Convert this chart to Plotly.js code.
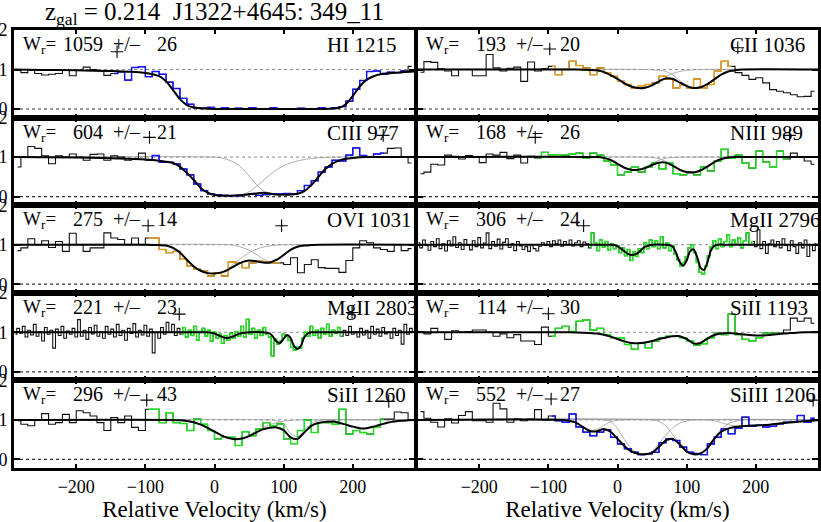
<!DOCTYPE html>
<html><head><meta charset="utf-8">
<script src="https://cdn.plot.ly/plotly-3.0.1.min.js"></script>
<style>html,body{margin:0;padding:0;background:#fff}#chart{width:821px;height:522px}</style>
</head><body><div id="chart"></div>
<script>
// ---------- DATA ----------
const velBins = [-285,-275,-265,-255,-245,-235,-225,-215,-205,-195,
 -185,-175,-165,-155,-145,-135,-125,-115,-105,-95,
 -85,-75,-65,-55,-45,-35,-25,-15,-5,5,
 15,25,35,45,55,65,75,85,95,105,
 115,125,135,145,155,165,175,185,195,205,
 215,225,235,245,255,265,275,285];
const velMg = [-288,-284,-280,-276,-272,-268,-264,-260,-256,-252,
 -248,-244,-240,-236,-232,-228,-224,-220,-216,-212,
 -208,-204,-200,-196,-192,-188,-184,-180,-176,-172,
 -168,-164,-160,-156,-152,-148,-144,-140,-136,-132,
 -128,-124,-120,-116,-112,-108,-104,-100,-96,-92,
 -88,-84,-80,-76,-72,-68,-64,-60,-56,-52,
 -48,-44,-40,-36,-32,-28,-24,-20,-16,-12,
 -8,-4,0,4,8,12,16,20,24,28,
 32,36,40,44,48,52,56,60,64,68,
 72,76,80,84,88,92,96,100,104,108,
 112,116,120,124,128,132,136,140,144,148,
 152,156,160,164,168,172,176,180,184,188,
 192,196,200,204,208,212,216,220,224,228,
 232,236,240,244,248,252,256,260,264,268,
 272,276,280,284,288];

// HI 1215
const hiFlux = [0.98,0.92,0.98,0.90,0.86,0.88,0.90,0.98,0.84,0.98,
 1.06,1.00,0.97,0.85,0.90,0.94,0.73,1.05,1.07,0.82,
 0.95,0.88,0.68,0.52,0.27,0.12,0.03,0.02,0.04,0.01,
 0.03,0.00,0.02,0.00,0.03,0.01,0.00,0.03,0.00,0.01,
 0.00,0.02,0.00,0.01,0.03,0.01,0.03,0.06,0.20,0.50,
 0.72,0.95,0.96,0.88,0.93,0.92,0.97,1.08];
const hiWin = [-145, 275];
const hiFitVel = [-290,-250,-200,-150,-120,-100,-90,-80,-70,-60,-50,-40,-30,-20,-10,0,20,60,100,140,160,170,180,190,200,210,220,230,240,250,260,270,290];
const hiFit = [1.0,0.99,0.98,0.96,0.94,0.91,0.88,0.83,0.70,0.48,0.25,0.10,0.04,0.02,0.01,0.0,0.0,0.0,0.0,0.0,0.0,0.01,0.03,0.12,0.33,0.57,0.74,0.83,0.88,0.90,0.92,0.93,0.95];
const hiMarkV = [-141], hiMarkY = [1.45];

// CII 1036
const ciiFlux = [0.93,1.20,1.18,1.02,0.96,0.84,1.00,1.00,0.84,0.84,
 1.38,1.04,0.96,1.03,1.06,0.70,1.19,0.96,1.02,1.08,
 0.87,1.00,1.21,1.10,1.04,0.87,1.04,0.92,0.83,0.70,
 0.62,0.53,0.59,0.62,0.66,0.83,0.75,0.53,0.60,0.53,
 0.76,0.53,0.62,0.96,1.21,1.08,0.92,0.85,0.75,0.79,
 0.66,0.49,0.45,0.41,0.36,0.31,0.32,0.45];
const ciiWin = [-95, 165];
const ciiFitVel = [-290,-60,-40,-30,-20,-10,0,10,20,30,40,50,60,70,80,90,100,110,120,130,140,150,160,170,180,290];
const ciiFit = [1.0,1.0,0.99,0.98,0.94,0.86,0.76,0.65,0.57,0.53,0.54,0.60,0.70,0.77,0.76,0.67,0.58,0.53,0.55,0.63,0.75,0.87,0.95,0.98,1.0,1.0];
const ciiC1Vel = [-290,-40,-30,-20,-10,0,10,20,30,40,50,60,70,80,90,100,110,120,290];
const ciiC1 = [1,1.0,0.98,0.94,0.86,0.76,0.65,0.57,0.53,0.55,0.62,0.72,0.82,0.9,0.95,0.98,0.99,1.0,1.0];
const ciiC2Vel = [-290,40,50,60,70,80,90,100,110,120,130,140,150,160,170,180,290];
const ciiC2 = [1,1.0,0.99,0.98,0.95,0.86,0.72,0.60,0.53,0.56,0.64,0.76,0.87,0.95,0.98,1.0,1.0];
const ciiMarkV = [-98, 174], ciiMarkY = [1.52, 1.55];

// CIII 977
const ciiiFlux = [0.75,1.00,1.27,1.22,1.03,0.83,1.03,1.00,1.08,1.00,
 0.92,1.07,1.08,0.92,1.03,1.00,0.92,0.96,1.10,0.92,
 1.04,0.87,0.87,0.83,0.70,0.55,0.32,0.15,0.07,0.05,
 0.03,0.02,0.02,0.05,0.07,0.03,0.05,0.07,0.07,0.08,
 0.07,0.15,0.28,0.40,0.62,0.75,0.92,0.90,1.05,1.23,
 1.04,1.00,1.08,1.10,1.22,1.23,1.00,0.85];
const ciiiWin = [-95, 245];
const ciiiFitVel = [-290,-200,-150,-100,-80,-60,-50,-40,-30,-20,-10,0,10,20,30,40,50,60,70,80,90,100,110,120,130,140,150,160,170,180,190,200,220,290];
const ciiiFit = [1.0,0.99,0.97,0.94,0.91,0.85,0.76,0.6,0.42,0.22,0.1,0.04,0.02,0.02,0.03,0.04,0.06,0.08,0.1,0.08,0.05,0.05,0.05,0.07,0.14,0.29,0.49,0.69,0.83,0.91,0.96,0.98,1.0,1.0];
const ciiiC1Vel = [-290,-200,-150,-100,-80,-60,-50,-40,-30,-20,-10,0,10,20,30,40,50,60,70,80,90,100,110,120,130,140,150,160,170,290];
const ciiiC1 = [1.0,0.99,0.97,0.94,0.91,0.85,0.76,0.6,0.42,0.22,0.1,0.04,0.02,0.02,0.03,0.05,0.12,0.25,0.4,0.55,0.68,0.78,0.85,0.9,0.94,0.96,0.98,0.99,1.0,1.0];
const ciiiC2Vel = [-290,0,10,20,30,40,50,60,70,80,90,100,110,120,130,140,150,160,170,180,190,200,210,220,290];
const ciiiC2 = [1.0,1.0,0.98,0.93,0.85,0.72,0.52,0.32,0.16,0.08,0.05,0.05,0.05,0.07,0.15,0.3,0.5,0.7,0.83,0.91,0.96,0.98,0.99,1.0,1.0];
const ciiiMarkV = [-94, 244], ciiiMarkY = [1.5, 1.55];

// NIII 989
const niiiFlux = [0.58,0.62,0.82,0.80,1.05,1.02,0.95,1.04,1.00,0.86,
 1.08,1.05,1.12,0.96,1.05,0.85,1.02,0.98,1.12,1.06,
 1.06,1.05,1.08,1.10,0.98,1.10,1.05,0.90,0.80,0.55,
 0.62,0.75,0.62,0.75,0.85,0.70,0.85,0.58,0.55,0.62,
 0.55,0.75,0.65,0.90,1.20,0.97,1.05,0.85,0.72,1.15,
 0.88,0.75,1.15,0.95,1.10,1.00,0.90,0.82];
const niiiWin = [-115, 245];
const niiiFitVel = [-290,-30,-20,-10,0,10,20,30,40,50,60,70,80,90,100,110,120,130,140,150,160,170,290];
const niiiFit = [1.0,1.0,0.98,0.93,0.83,0.73,0.68,0.68,0.72,0.8,0.86,0.86,0.78,0.68,0.62,0.61,0.66,0.76,0.87,0.95,0.99,1.0,1.0];
const niiiC1Vel = [-290,-30,-20,-10,0,10,20,30,40,50,60,70,80,90,290];
const niiiC1 = [1,1,0.99,0.94,0.84,0.74,0.68,0.69,0.75,0.84,0.92,0.97,0.99,1.0,1.0];
const niiiC2Vel = [-290,40,50,60,70,80,90,100,110,120,130,140,150,160,170,290];
const niiiC2 = [1,1,0.99,0.96,0.89,0.79,0.69,0.62,0.61,0.66,0.76,0.87,0.95,0.99,1.0,1.0];
const niiiMarkV = [-119, 249], niiiMarkY = [1.5, 1.55];

// OVI 1031
const oviFlux = [0.85,0.92,1.15,1.00,1.10,0.93,1.08,0.83,1.29,1.00,
 0.83,0.92,0.92,1.30,1.17,1.13,1.00,1.17,1.00,1.17,
 1.17,0.88,0.80,0.83,0.63,0.46,0.38,0.33,0.21,0.29,
 0.21,0.56,0.54,0.42,0.54,0.58,0.56,0.54,0.54,0.50,
 0.67,0.29,0.50,0.62,0.42,0.40,0.40,0.30,0.60,0.92,
 1.10,1.05,0.92,0.88,0.83,1.00,0.85,0.90];
const oviWin = [-95, 95];
const oviFitVel = [-290,-100,-80,-70,-60,-50,-40,-30,-20,-10,0,10,20,30,40,50,60,70,80,90,100,110,120,130,140,150,290];
const oviFit = [1.0,1.0,0.99,0.98,0.92,0.8,0.62,0.45,0.34,0.28,0.27,0.3,0.37,0.47,0.56,0.6,0.58,0.55,0.55,0.62,0.74,0.87,0.95,0.98,0.99,1.0,1.0];
const oviC1Vel = [-290,-80,-70,-60,-50,-40,-30,-20,-10,0,10,20,30,40,50,60,70,80,90,100,290];
const oviC1 = [1,1.0,0.98,0.92,0.8,0.62,0.45,0.34,0.28,0.27,0.3,0.4,0.55,0.68,0.8,0.88,0.94,0.97,0.99,1.0,1.0];
const oviC2Vel = [-290,20,30,40,50,60,70,80,90,100,110,120,130,140,150,290];
const oviC2 = [1,1.0,0.98,0.93,0.86,0.76,0.64,0.57,0.6,0.72,0.86,0.95,0.98,0.99,1.0,1.0];
const oviMarkV = [-96, 97], oviMarkY = [1.48, 1.48];

// MgII 2796
const mg96Flux = [1.05,0.92,1.12,0.98,0.86,1.08,0.95,1.15,0.90,1.02,
 0.84,1.10,0.97,1.20,0.93,1.05,0.88,1.13,0.99,0.87,
 1.10,0.95,1.18,0.92,1.04,1.30,0.90,1.08,0.96,1.14,
 0.89,1.06,1.15,0.93,1.02,0.85,1.08,0.97,0.88,0.95,
 0.83,1.00,0.90,0.84,0.96,1.05,0.98,1.08,0.95,1.10,
 1.02,1.12,0.96,1.08,1.00,1.12,0.97,1.05,1.10,0.95,
 1.07,1.02,0.92,1.30,1.05,0.85,1.12,0.94,1.08,0.86,
 1.02,0.90,0.98,0.80,0.92,0.72,0.88,0.60,0.82,0.70,
 0.90,0.80,1.05,0.90,1.12,0.95,1.10,0.90,1.20,0.92,
 1.05,0.85,0.98,0.75,0.62,0.45,0.55,0.70,0.92,1.00,
 0.80,0.55,0.30,0.25,0.45,0.72,0.95,1.10,0.90,1.15,
 0.95,1.08,1.25,0.95,1.12,1.02,1.18,0.92,1.10,1.30,
 1.00,1.08,0.95,1.38,0.90,1.08,0.78,1.02,1.12,0.95,
 1.08,0.92,1.15,0.98,0.85,1.10,0.95,0.78,1.05,0.92,
 1.12,0.70,1.00,0.85,1.02];
const mg96Win = [-40, 196];
const mg96FitVel = [-290,-20,-10,-5,0,5,10,15,20,25,30,35,40,45,50,70,75,80,85,90,95,100,105,110,115,120,125,130,135,140,145,160,290];
const mg96Fit = [1.0,1.0,1.0,0.99,0.96,0.9,0.83,0.77,0.74,0.75,0.8,0.88,0.95,0.98,1.0,1.0,0.99,0.95,0.78,0.56,0.47,0.6,0.83,0.88,0.7,0.42,0.36,0.55,0.85,0.97,1.0,1.0,1.0];
const mg96MarkV = [-49], mg96MarkY = [1.48];

// MgII 2803
const mg03Flux = [0.95,1.10,0.98,1.15,0.88,1.05,0.93,1.20,0.90,1.02,
 0.78,1.12,0.95,1.05,0.60,1.08,0.92,1.15,0.85,1.03,
 0.95,1.10,0.88,1.32,0.90,1.05,0.82,1.12,0.96,1.18,
 0.90,1.02,0.85,1.15,0.95,1.08,0.88,1.20,0.92,1.05,
 0.80,1.10,0.97,1.22,0.88,1.05,0.93,1.18,0.90,1.08,
 0.48,1.00,0.85,1.12,0.95,1.25,1.00,1.20,0.92,1.10,
 0.95,1.12,0.88,1.05,0.92,1.15,0.80,1.02,1.10,0.90,
 1.05,0.78,1.00,0.85,0.95,0.72,0.92,0.80,0.98,0.85,
 1.02,0.90,1.15,0.88,1.33,0.95,1.10,0.85,1.05,0.92,
 1.12,0.95,0.88,0.40,0.82,0.70,0.78,0.95,0.90,0.80,
 0.62,0.55,0.62,0.60,0.85,1.00,0.90,1.15,0.92,1.05,
 0.85,1.10,0.95,1.20,0.90,1.05,0.98,1.12,0.90,1.05,
 0.92,1.15,0.95,1.02,0.88,1.10,0.93,1.05,0.85,1.15,
 0.95,1.08,0.90,1.12,0.96,1.00,0.85,1.10,0.92,1.05,
 0.70,1.20,0.95,1.10,1.00];
const mg03Win = [-48, 184];
const mg03FitVel = [-290,-20,-10,-5,0,5,10,15,20,25,30,35,40,45,50,70,75,80,85,90,95,100,105,110,115,120,125,130,135,140,160,290];
const mg03Fit = [1.0,1.0,1.0,0.99,0.97,0.93,0.89,0.86,0.86,0.88,0.92,0.96,0.98,0.99,1.0,1.0,0.99,0.97,0.88,0.76,0.73,0.84,0.93,0.86,0.65,0.58,0.66,0.88,0.97,1.0,1.0,1.0];
const mg03MarkV = [-51, 199], mg03MarkY = [1.46, 1.5];

// SiII 1193
const si93Flux = [1.02,0.96,1.10,1.00,0.82,1.04,1.00,1.02,1.06,1.06,
 1.00,0.90,0.96,0.86,0.94,0.78,0.78,0.69,1.13,0.90,
 1.10,1.15,1.02,1.28,1.31,1.06,1.10,0.94,0.86,0.86,
 0.69,0.57,0.73,0.61,0.78,0.86,0.90,0.90,0.86,0.78,
 0.675,0.71,0.86,0.98,0.94,1.46,0.94,0.82,0.78,0.86,
 0.98,0.98,0.98,1.06,1.36,1.28,1.36,1.23];
const si93Win = [-95, 235];
const si93FitVel = [-290,-70,-50,-40,-30,-20,-10,0,10,20,30,40,50,60,70,80,90,100,110,120,130,140,150,160,170,180,190,200,210,220,230,240,250,260,270,290];
const si93Fit = [1.0,1.0,0.99,0.98,0.97,0.94,0.89,0.83,0.77,0.73,0.72,0.74,0.78,0.83,0.87,0.9,0.9,0.83,0.72,0.73,0.84,0.93,0.97,0.98,0.97,0.95,0.93,0.92,0.92,0.93,0.95,0.97,0.98,0.99,1.0,1.0];
const si93MarkV = [-100], si93MarkY = [1.47];

// SiII 1260
const si60Flux = [0.98,0.89,0.85,1.00,1.16,0.89,0.93,1.14,0.93,1.23,
 1.18,1.10,0.93,0.73,1.06,0.93,1.10,0.81,0.73,1.27,
 1.27,0.93,1.18,0.93,0.91,0.73,1.02,0.89,0.73,0.52,
 0.56,0.56,0.35,0.70,0.60,0.77,0.93,0.85,0.90,0.52,
 0.40,0.73,1.00,0.68,0.93,0.93,0.89,1.27,0.64,0.73,
 0.68,0.64,0.81,1.02,1.02,1.20,1.18,1.00];
const si60Win = [-95, 245];
const si60FitVel = [-290,-60,-50,-40,-30,-20,-10,0,10,20,30,40,50,60,70,80,90,100,110,120,130,140,150,160,170,180,190,200,210,220,230,240,250,260,270,280,290];
const si60Fit = [1.0,1.0,0.99,0.97,0.94,0.88,0.8,0.7,0.61,0.54,0.51,0.53,0.59,0.68,0.76,0.8,0.81,0.74,0.56,0.52,0.68,0.85,0.92,0.95,0.96,0.93,0.88,0.83,0.79,0.79,0.83,0.88,0.93,0.96,0.98,0.99,1.0];
const si60C1Vel = [-290,-60,-50,-40,-30,-20,-10,0,10,20,30,40,50,60,70,80,90,100,110,120,290];
const si60C1 = [1,1,0.99,0.97,0.94,0.88,0.8,0.7,0.61,0.55,0.52,0.54,0.61,0.71,0.8,0.88,0.93,0.97,0.99,1.0,1.0];
const si60C2Vel = [-290,80,90,100,110,120,130,140,150,160,290];
const si60C2 = [1,1.0,0.98,0.9,0.66,0.58,0.74,0.9,0.98,1.0,1.0];
const si60MarkV = [-98, 252], si60MarkY = [1.5, 1.47];

// SiIII 1206
const siiiiFlux = [1.21,1.04,0.94,0.82,1.03,0.92,1.11,1.21,0.98,0.98,
 0.94,1.42,1.28,0.94,1.02,0.98,1.02,1.26,1.00,1.10,
 0.98,0.94,1.15,0.82,0.69,0.60,0.69,0.75,0.56,0.39,
 0.27,0.18,0.12,0.14,0.18,0.42,0.52,0.48,0.31,0.18,
 0.15,0.12,0.39,0.56,0.77,0.65,0.79,1.07,0.84,0.86,
 0.82,0.84,0.90,0.94,0.94,1.11,0.94,1.04];
const siiiiWin = [-95, 285];
const siiiiFitVel = [-290,-80,-70,-60,-50,-40,-30,-20,-10,0,10,20,30,40,50,60,70,80,90,100,110,120,130,140,150,160,170,180,200,220,240,260,280,290];
const siiiiFit = [1.0,1.0,0.98,0.93,0.82,0.72,0.71,0.77,0.7,0.52,0.34,0.2,0.14,0.13,0.17,0.32,0.48,0.52,0.38,0.2,0.13,0.15,0.28,0.52,0.7,0.78,0.82,0.84,0.86,0.88,0.92,0.95,0.98,0.99];
const siiiiCAVel = [-290,-80,-70,-60,-50,-40,-30,-20,-10,0,10,290];
const siiiiCA = [1,1.0,0.98,0.93,0.82,0.74,0.76,0.86,0.95,0.99,1.0,1.0];
const siiiiCBVel = [-290,-20,-10,0,10,20,30,40,50,60,70,80,90,100,110,290];
const siiiiCB = [1,1.0,0.96,0.78,0.5,0.27,0.15,0.13,0.2,0.4,0.62,0.8,0.92,0.97,1.0,1.0];
const siiiiCCVel = [-290,50,60,70,80,90,100,110,120,130,140,150,160,170,180,290];
const siiiiCC = [1,1.0,0.96,0.85,0.62,0.4,0.22,0.14,0.16,0.3,0.55,0.76,0.9,0.96,1.0,1.0];
const siiiiCDVel = [-290,130,140,150,160,170,180,190,200,220,240,260,280,290];
const siiiiCD = [1,1.0,0.98,0.93,0.88,0.85,0.84,0.85,0.86,0.88,0.92,0.95,0.98,0.99];
const siiiiMarkV = [-96, 283], siiiiMarkY = [1.53, 1.5];

// Labels
const lineNames = ['HI 1215','CII 1036','CIII 977','NIII 989','OVI 1031','MgII 2796','MgII 2803','SiII 1193','SiII 1260','SiIII 1206'];
const wrValues = ['1059','193','604','168','275','306','221','114','296','552'];
const wrErrors = ['26','20','21','26','14','24','23','30','43','27'];
const titleText = 'z<sub>gal</sub> = 0.214&nbsp;&nbsp;J1322+4645: 349_11';
const xTicks = [-200,-100,0,100,200];
const yTicks = [0,1,2];
const yTickText = ['0','1','2'];

// ---------- BUILD ----------
const BLUE='#1414ff', ORANGE='#eaa21c', GREEN='#1ee61e';
const panels = [
 {row:0,col:0,vel:velBins,flux:hiFlux,win:hiWin,color:BLUE,fv:hiFitVel,fit:hiFit,comps:[],mV:hiMarkV,mY:hiMarkY,lab:0},
 {row:0,col:1,vel:velBins,flux:ciiFlux,win:ciiWin,color:ORANGE,fv:ciiFitVel,fit:ciiFit,comps:[[ciiC1Vel,ciiC1],[ciiC2Vel,ciiC2]],mV:ciiMarkV,mY:ciiMarkY,lab:1},
 {row:1,col:0,vel:velBins,flux:ciiiFlux,win:ciiiWin,color:BLUE,fv:ciiiFitVel,fit:ciiiFit,comps:[[ciiiC1Vel,ciiiC1],[ciiiC2Vel,ciiiC2]],mV:ciiiMarkV,mY:ciiiMarkY,lab:2},
 {row:1,col:1,vel:velBins,flux:niiiFlux,win:niiiWin,color:GREEN,fv:niiiFitVel,fit:niiiFit,comps:[[niiiC1Vel,niiiC1],[niiiC2Vel,niiiC2]],mV:niiiMarkV,mY:niiiMarkY,lab:3},
 {row:2,col:0,vel:velBins,flux:oviFlux,win:oviWin,color:ORANGE,fv:oviFitVel,fit:oviFit,comps:[[oviC1Vel,oviC1],[oviC2Vel,oviC2]],mV:oviMarkV,mY:oviMarkY,lab:4},
 {row:2,col:1,vel:velMg,flux:mg96Flux,win:mg96Win,color:GREEN,fv:mg96FitVel,fit:mg96Fit,comps:[],mV:mg96MarkV,mY:mg96MarkY,lab:5},
 {row:3,col:0,vel:velMg,flux:mg03Flux,win:mg03Win,color:GREEN,fv:mg03FitVel,fit:mg03Fit,comps:[],mV:mg03MarkV,mY:mg03MarkY,lab:6},
 {row:3,col:1,vel:velBins,flux:si93Flux,win:si93Win,color:GREEN,fv:si93FitVel,fit:si93Fit,comps:[],mV:si93MarkV,mY:si93MarkY,lab:7},
 {row:4,col:0,vel:velBins,flux:si60Flux,win:si60Win,color:GREEN,fv:si60FitVel,fit:si60Fit,comps:[[si60C1Vel,si60C1],[si60C2Vel,si60C2]],mV:si60MarkV,mY:si60MarkY,lab:8},
 {row:4,col:1,vel:velBins,flux:siiiiFlux,win:siiiiWin,color:BLUE,fv:siiiiFitVel,fit:siiiiFit,comps:[[siiiiCAVel,siiiiCA],[siiiiCBVel,siiiiCB],[siiiiCCVel,siiiiCC],[siiiiCDVel,siiiiCD]],mV:siiiiMarkV,mY:siiiiMarkY,lab:9}
];

const W=821, H=522;
const colX=[[14,415],[417,818]];
const rowTop=30, rowH=87.6;
const FONT='Liberation Serif, Times New Roman, serif';
const XR=[-290,290], YR=[-0.218,2];

const traces=[], shapes=[], annotations=[];
const layout={width:W,height:H,margin:{l:0,r:0,t:0,b:0},paper_bgcolor:'#fff',plot_bgcolor:'#fff',showlegend:false,font:{family:FONT,color:'#000'}};

panels.forEach((p,k)=>{
  const n=k+1, xa='x'+(n===1?'':n), ya='y'+(n===1?'':n);
  const top=rowTop+rowH*p.row, bot=top+rowH;
  const left=colX[p.col][0], right=colX[p.col][1];
  const bottomRow=(p.row===4);
  const xax={domain:[left/W,right/W],anchor:ya,range:XR,tickvals:xTicks,ticks:'inside',ticklen:4,tickwidth:2,tickcolor:'#000',
    showline:true,linewidth:3,linecolor:'#000',mirror:'ticks',showgrid:false,zeroline:false,
    showticklabels:bottomRow,tickfont:{family:FONT,size:18,color:'#000'}};
  if(bottomRow) xax.title={text:'Relative Velocity (km/s)',font:{family:FONT,size:23,color:'#000'},standoff:4};
  layout['xaxis'+(n===1?'':n)]=xax;
  layout['yaxis'+(n===1?'':n)]={domain:[1-bot/H,1-top/H],anchor:xa,range:YR,tickvals:yTicks,ticktext:yTickText,ticks:'inside',ticklen:6,tickwidth:2,tickcolor:'#000',
    showline:true,linewidth:3,linecolor:'#000',mirror:'ticks',showgrid:false,zeroline:false,
    showticklabels:(p.col===0),tickfont:{family:FONT,size:18,color:'#000'}};
  // reference dotted lines
  shapes.push({type:'line',xref:xa,yref:ya,x0:XR[0],x1:XR[1],y0:1,y1:1,line:{color:'#8a8a8a',width:1,dash:'dot'},layer:'below'});
  shapes.push({type:'line',xref:xa,yref:ya,x0:XR[0],x1:XR[1],y0:0,y1:0,line:{color:'#333',width:1.2,dash:'dot'},layer:'below'});
  // components
  p.comps.forEach(c=>traces.push({type:'scatter',mode:'lines',x:c[0],y:c[1],xaxis:xa,yaxis:ya,line:{color:'#9a9a9a',width:0.8,shape:'spline',smoothing:0.8},hoverinfo:'skip'}));
  // spectrum (black, full)
  traces.push({type:'scatter',mode:'lines',x:p.vel,y:p.flux,xaxis:xa,yaxis:ya,line:{color:'#111',width:1.1,shape:'hvh'},hoverinfo:'skip'});
  // spectrum inside window (colored)
  const cx=[],cy=[];
  p.vel.forEach((v,i)=>{ if(v>=p.win[0]&&v<=p.win[1]){cx.push(v);cy.push(p.flux[i]);} });
  traces.push({type:'scatter',mode:'lines',x:cx,y:cy,xaxis:xa,yaxis:ya,line:{color:p.color,width:1.4,shape:'hvh'},hoverinfo:'skip'});
  // fit
  traces.push({type:'scatter',mode:'lines',x:p.fv,y:p.fit,xaxis:xa,yaxis:ya,line:{color:'#000',width:2,shape:'spline',smoothing:0.7},hoverinfo:'skip'});
  // markers
  traces.push({type:'scatter',mode:'markers',x:p.mV,y:p.mY,xaxis:xa,yaxis:ya,marker:{symbol:'cross-thin',size:9,color:'#000',line:{width:1.1,color:'#000'}},hoverinfo:'skip'});
  // labels
  const ty=1-(top+1)/H;
  const lf={family:FONT,size:20,color:'#000'};
  const wf={family:FONT,size:19,color:'#000'};
  const nf={family:FONT,size:21,color:'#000'};
  annotations.push({xref:'paper',yref:'paper',x:(left+7)/W,y:ty,xanchor:'left',yanchor:'top',text:'W<sub>r</sub>=',showarrow:false,font:wf});
  annotations.push({xref:'paper',yref:'paper',x:(left+91)/W,y:ty,xanchor:'right',yanchor:'top',text:wrValues[p.lab],showarrow:false,font:lf});
  annotations.push({xref:'paper',yref:'paper',x:(left+97)/W,y:ty,xanchor:'left',yanchor:'top',text:'+/\u2013',showarrow:false,font:lf});
  annotations.push({xref:'paper',yref:'paper',x:(left+165)/W,y:ty,xanchor:'right',yanchor:'top',text:wrErrors[p.lab],showarrow:false,font:lf});
  annotations.push({xref:'paper',yref:'paper',x:(left+311)/W,y:ty,xanchor:'left',yanchor:'top',text:lineNames[p.lab],showarrow:false,font:nf});
});
annotations.push({xref:'paper',yref:'paper',x:43/W,y:1,xanchor:'left',yanchor:'top',yshift:4,text:titleText,showarrow:false,font:{family:FONT,size:25,color:'#000'}});
layout.shapes=shapes; layout.annotations=annotations;
Plotly.newPlot('chart',traces,layout,{staticPlot:true,displayModeBar:false});
</script></body></html>
